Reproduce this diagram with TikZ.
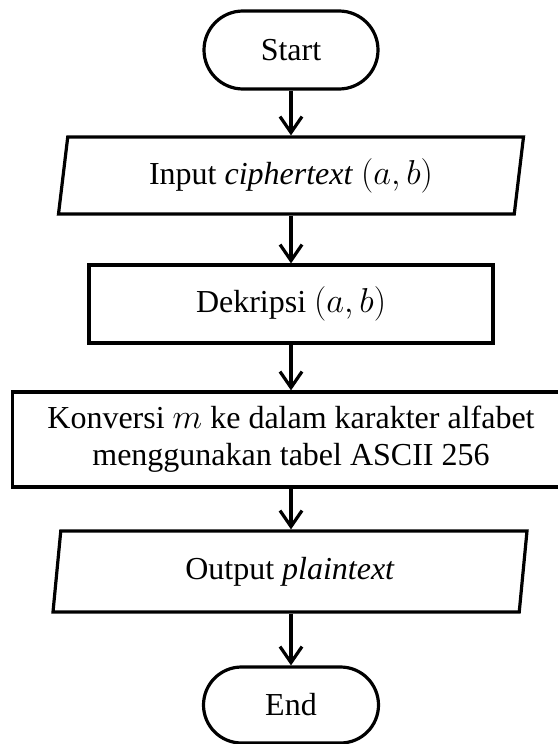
\documentclass[tikz,border=0pt]{standalone}
\usepackage{amsmath}
\usepackage{fontspec}
\setmainfont{Liberation Serif}
\usepackage{tikz}
\usetikzlibrary{arrows.meta,positioning,shapes.geometric,shapes.misc}

\begin{document}
\begin{tikzpicture}[x=0.5pt, y=-0.5pt,
    font=\fontsize{16}{18.5}\selectfont,
    terminal/.style={draw, line width=1.6pt, rounded rectangle,
      minimum width=87pt, minimum height=39pt, inner sep=0pt},
    process/.style={draw, line width=1.6pt, rectangle, align=center,
      inner sep=0pt},
    io/.style={draw, line width=1.6pt, trapezium,
      trapezium left angle=75, trapezium right angle=105,
      trapezium stretches body, inner sep=0pt},
    flow/.style={-{Straight Barb[length=8pt, width=11pt]}, line width=1.6pt}]
  \useasboundingbox (0,0) rectangle (557,744);

  % Nodes - placed at pixel positions
  \node[terminal] (start) at (291, 50) {Start};
  \node[io, minimum width=232.5pt, minimum height=38.5pt]
    (input) at (291, 175.5) {Input \textit{ciphertext} $(a, b)$};
  \node[process, minimum width=202pt, minimum height=39pt]
    (dekripsi) at (291, 304) {Dekripsi $(a, b)$};
  \node[process, minimum width=278.5pt, minimum height=47.5pt]
    (konversi) at (291, 439.5)
    {Konversi $m$ ke dalam karakter alfabet\\menggunakan tabel ASCII 256};
  \node[io, minimum width=237pt, minimum height=40.5pt]
    (output) at (290, 571.5) {Output \textit{plaintext}};
  \node[terminal, minimum width=87.5pt, minimum height=38pt]
    (stop) at (291, 705) {End};

  % Connectors
  \draw[flow] (start.south) -- (start.south |- input.north);
  \draw[flow] (input.south) -- (input.south |- dekripsi.north);
  \draw[flow] (dekripsi.south) -- (dekripsi.south |- konversi.north);
  \draw[flow] (konversi.south -| dekripsi.south) -- (dekripsi.south |- output.north);
  \draw[flow] (output.south -| stop.north) -- (stop.north);
\end{tikzpicture}
\end{document}
